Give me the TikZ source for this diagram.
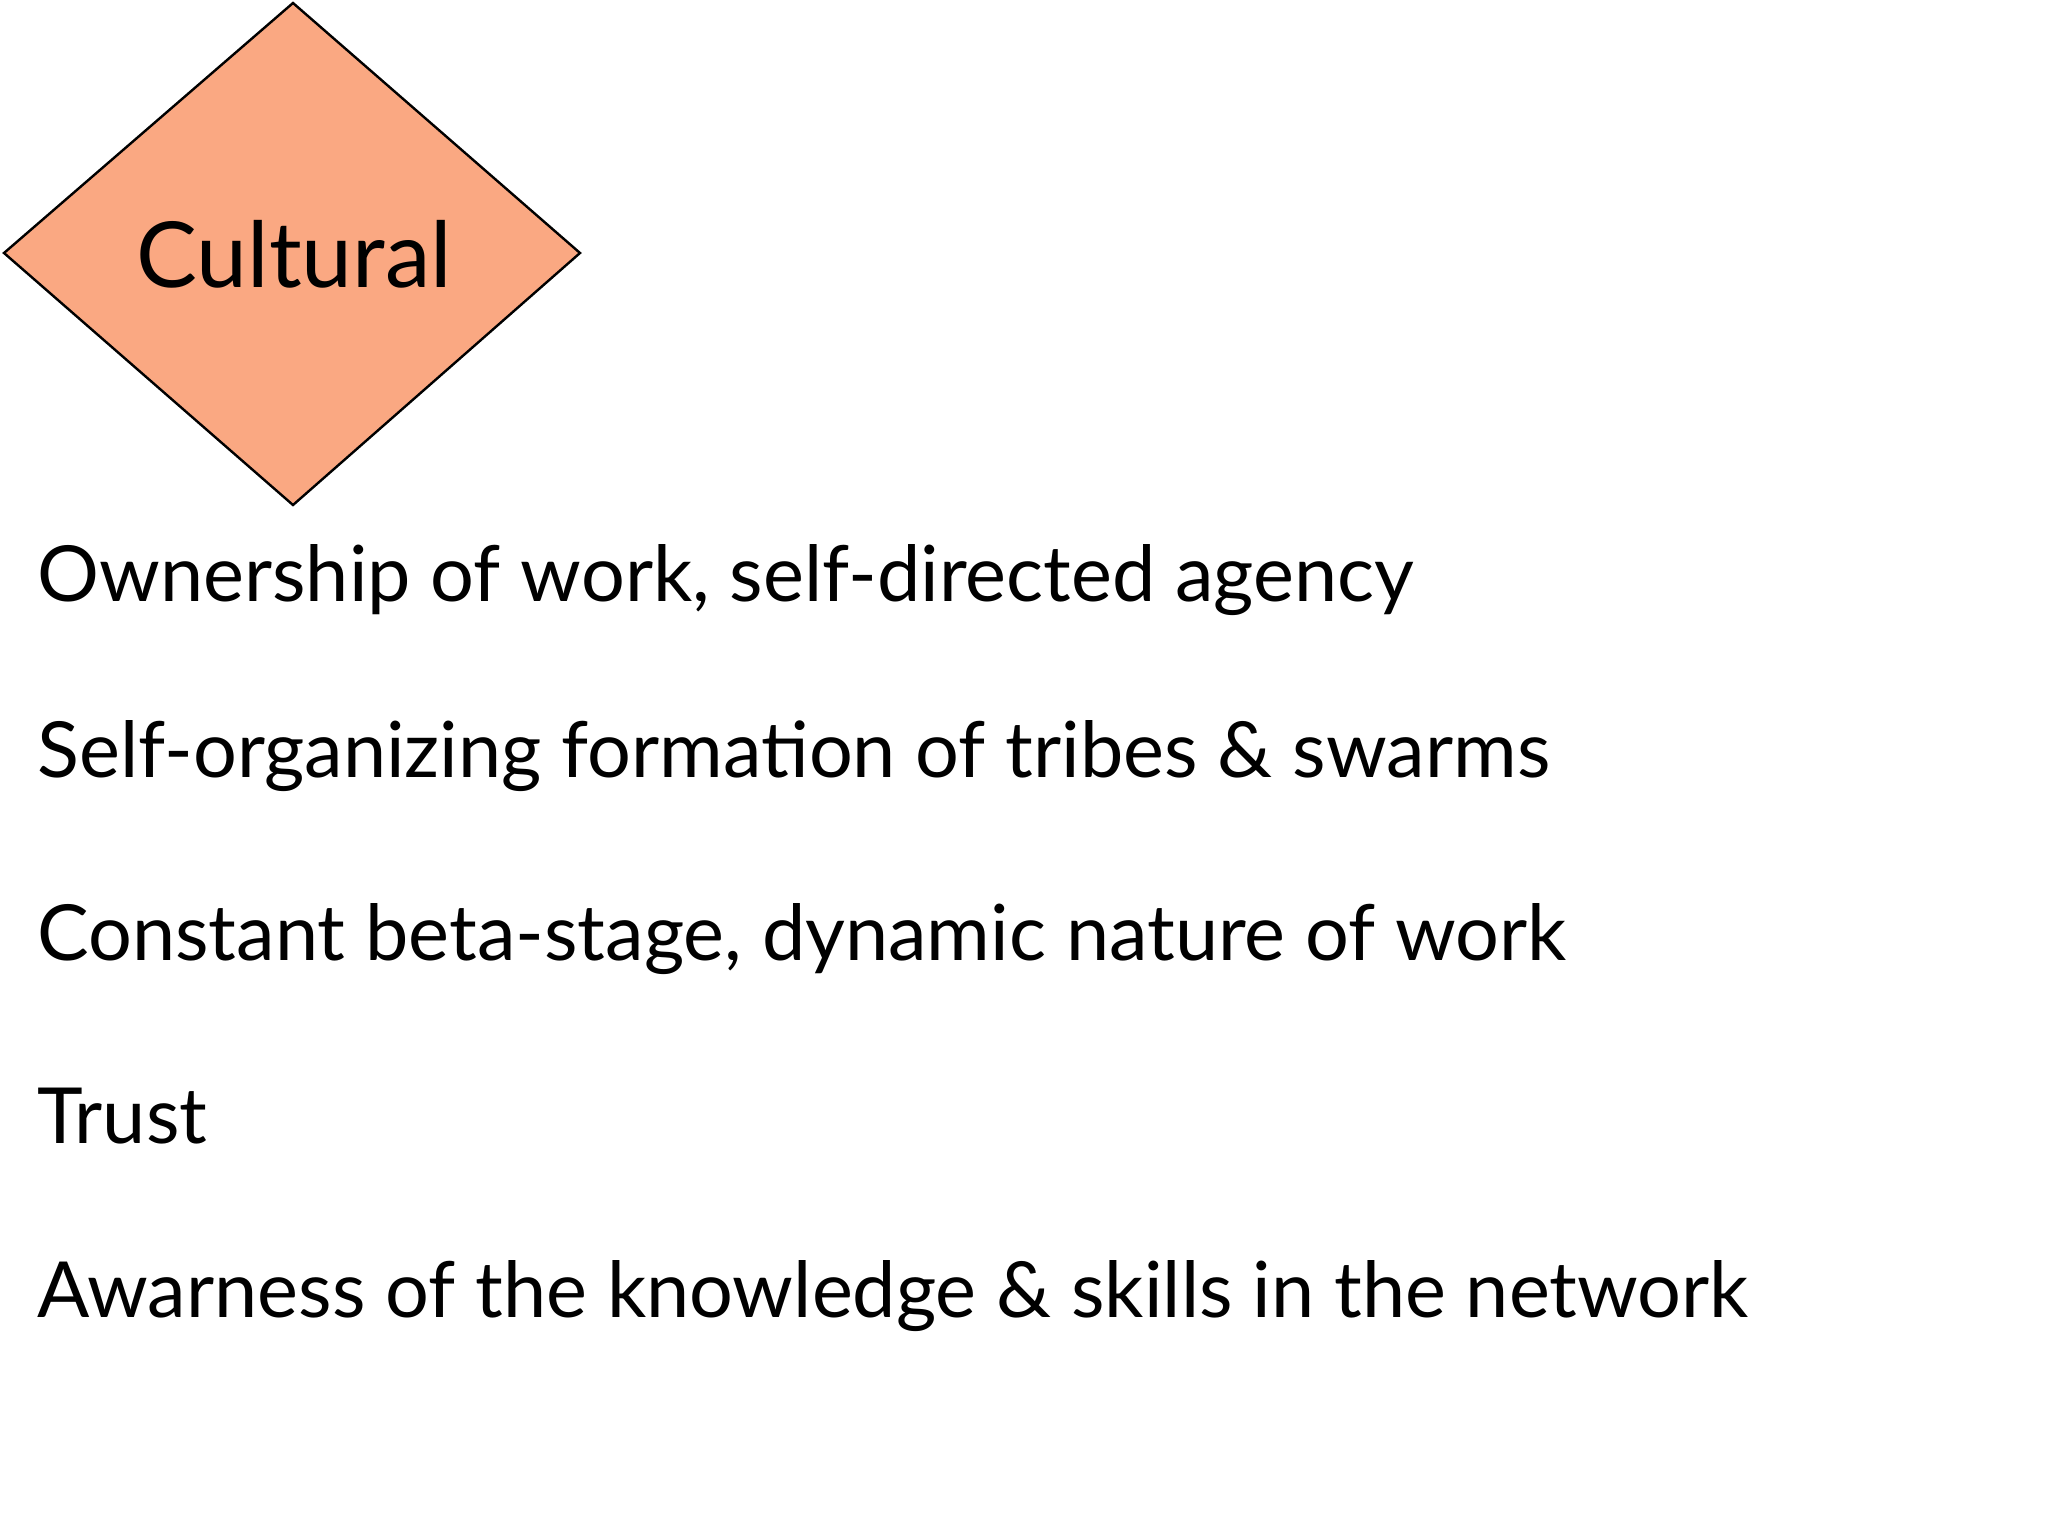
\documentclass[tikz,border=0pt]{standalone}
\usepackage{fontspec}
\setmainfont{Lato}
\definecolor{dfill}{RGB}{250,168,130}
\begin{document}
\begin{tikzpicture}[x=0.5pt,y=-0.5pt,
  item/.style={anchor=base west,inner sep=0pt,font=\fontsize{38.7}{46}\selectfont}]
\useasboundingbox (0,0) rectangle (2048,1536);
\fill[white] (0,0) rectangle (2048,1536);
\draw[fill=dfill,line width=1.2pt] (293,3) -- (580,253) -- (293,505) -- (4,253) -- cycle;
\node[item,font=\fontsize{45.6}{52}\selectfont] (c) at (136,287) {Cultural};
\node[item] (a) at (37,601) {Ownership of work, self-directed agency};
\node[item] (b) at (37,777) {Self-organizing formation of tribes \& swarms};
\node[item] (d) at (37,960) {Constant beta-stage, dynamic nature of work};
\node[item] (e) at (37,1143) {Trust};
\node[item] (f) at (37,1317) {Awarness of the knowledge \& skills in the network};
\end{tikzpicture}
\end{document}
